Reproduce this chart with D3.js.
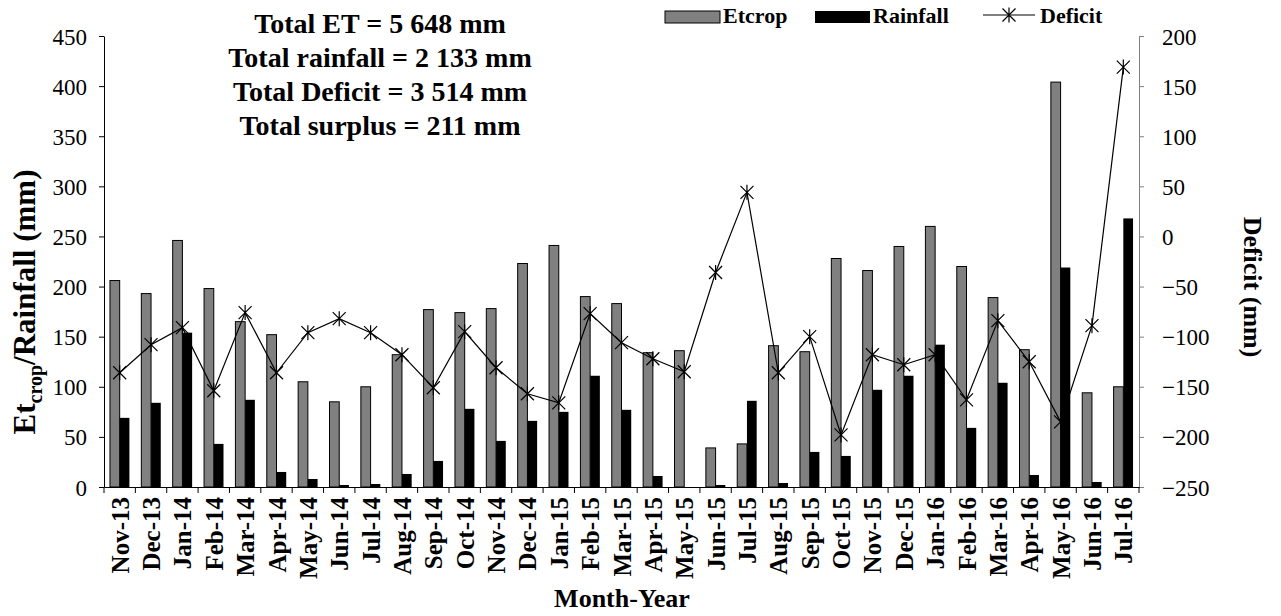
<!DOCTYPE html>
<html>
<head>
<meta charset="utf-8">
<script src="https://cdn.jsdelivr.net/npm/d3@7"></script>
<style>
  body { margin: 0; background: #fff; }
  svg, svg text { font-family: "Liberation Serif", "Times New Roman", serif; }
</style>
</head>
<body>
<svg id="chart" width="1281" height="616"></svg>
<script>
const months = ['Nov-13', 'Dec-13', 'Jan-14', 'Feb-14', 'Mar-14', 'Apr-14', 'May-14', 'Jun-14', 'Jul-14', 'Aug-14',
  'Sep-14', 'Oct-14', 'Nov-14', 'Dec-14', 'Jan-15', 'Feb-15', 'Mar-15', 'Apr-15', 'May-15', 'Jun-15', 'Jul-15',
  'Aug-15', 'Sep-15', 'Oct-15', 'Nov-15', 'Dec-15', 'Jan-16', 'Feb-16', 'Mar-16', 'Apr-16', 'May-16', 'Jun-16', 'Jul-16']
const etcrop = [206, 193, 246, 198, 165, 152, 105, 85, 100, 132, 177, 174, 178, 223, 241, 190, 183, 134, 136, 39, 43,
  141, 135, 228, 216, 240, 260, 220, 189, 137, 404, 94, 100]
const rainfall = [69, 84, 154, 43, 87, 15, 8, 2, 3, 13, 26, 78, 46, 66, 75, 111, 77, 11, 0, 2, 86,
  4, 35, 31, 97, 111, 142, 59, 104, 12, 219, 5, 268]
const deficit = [-136, -108, -91, -154, -76, -136, -96, -82, -96, -118, -151, -95, -131, -157, -166, -77, -106, -122, -135, -36, 44,
  -136, -100, -198, -118, -128, -118, -163, -84, -125, -185, -89, 169]
const leftTicks = [0, 50, 100, 150, 200, 250, 300, 350, 400, 450]
const rightTicks = [-250, -200, -150, -100, -50, 0, 50, 100, 150, 200]
const totals = ['Total ET = 5 648 mm', 'Total rainfall = 2 133 mm', 'Total Deficit = 3 514 mm', 'Total surplus = 211 mm']

const serif = '"Liberation Serif", "Times New Roman", serif'
const svg = d3.select('#chart')

let x = d3.scaleBand().domain(months).range([104, 1139])
let y = d3.scaleLinear().domain([0, 450]).range([487, 36])
let y2 = d3.scaleLinear().domain([-250, 200]).range([487, 36])

let bw = x.bandwidth() * 0.31

// bars
svg.append('g')
  .selectAll('rect')
  .data(months)
  .enter()
  .append('rect')
  .attr('x', (d, i) => x(d) + x.bandwidth() / 2 - bw)
  .attr('y', (d, i) => y(etcrop[i]))
  .attr('width', bw)
  .attr('height', (d, i) => y(0) - y(etcrop[i]))
  .attr('fill', '#808080')
  .attr('stroke', '#000')
  .attr('stroke-width', 1)

svg.append('g')
  .selectAll('rect')
  .data(months)
  .enter()
  .append('rect')
  .attr('x', (d, i) => x(d) + x.bandwidth() / 2)
  .attr('y', (d, i) => y(rainfall[i]))
  .attr('width', bw)
  .attr('height', (d, i) => y(0) - y(rainfall[i]))
  .attr('fill', '#000')

// left axis
let leftAxis = svg.append('g')
  .attr('transform', 'translate(104,0)')
  .call(d3.axisLeft(y).tickValues(leftTicks).tickSize(5).tickPadding(12).tickSizeOuter(0))
leftAxis.attr('font-family', serif)
leftAxis.selectAll('text')
  .attr('font-family', serif)
  .attr('font-size', 23)
  .attr('fill', '#000')
  .attr('dy', '0.35em')
leftAxis.select('.domain').attr('stroke', '#000')

// right axis
let rightAxis = svg.append('g')
  .attr('transform', 'translate(1139,0)')
  .call(d3.axisRight(y2).tickValues(rightTicks).tickSize(5).tickPadding(18).tickSizeOuter(0))
rightAxis.attr('font-family', serif)
rightAxis.selectAll('text')
  .attr('font-family', serif)
  .attr('font-size', 23)
  .attr('fill', '#000')
  .attr('dy', '0.35em')
rightAxis.selectAll('line').attr('stroke', '#808080')
rightAxis.select('.domain').attr('stroke', '#808080')

// bottom axis
let bottom = svg.append('g')
  .attr('transform', 'translate(0,487)')
  .call(d3.axisBottom(x).tickSize(0).tickPadding(0).tickSizeOuter(0))
bottom.attr('font-family', serif)
bottom.select('.domain').attr('stroke', '#000')
bottom.selectAll('text')
  .attr('transform', 'rotate(-90)')
  .attr('text-anchor', 'end')
  .attr('x', -10)
  .attr('y', 0)
  .attr('dy', '0.36em')
  .attr('fill', '#000')
  .attr('font-family', serif)
  .attr('font-size', 25)
  .attr('font-weight', 'bold')

bottom.selectAll('.boundary')
  .data(d3.range(months.length + 1))
  .enter()
  .append('line')
  .attr('class', 'boundary')
  .attr('x1', i => 104 + i * x.step())
  .attr('x2', i => 104 + i * x.step())
  .attr('y1', 0)
  .attr('y2', 6)
  .attr('stroke', '#000')

// deficit line
let star = 'M-6.5,-6.5L6.5,6.5M-6.5,6.5L6.5,-6.5M0,-7.5L0,7.5'
let line = d3.line()
  .x((d, i) => x(months[i]) + x.bandwidth() / 2)
  .y(d => y2(d))

svg.append('path')
  .datum(deficit)
  .attr('d', line)
  .attr('fill', 'none')
  .attr('stroke', '#000')
  .attr('stroke-width', 1.2)

svg.append('g')
  .selectAll('path')
  .data(deficit)
  .enter()
  .append('path')
  .attr('d', star)
  .attr('transform', (d, i) => `translate(${x(months[i]) + x.bandwidth() / 2},${y2(d)})`)
  .attr('fill', 'none')
  .attr('stroke', '#000')
  .attr('stroke-width', 1.2)

// totals box
svg.append('g')
  .selectAll('text')
  .data(totals)
  .enter()
  .append('text')
  .attr('x', 380)
  .attr('y', (d, i) => 33 + i * 34)
  .attr('text-anchor', 'middle')
  .style('font-size', '28px')
  .style('font-weight', 'bold')
  .text(d => d)

// axis titles
let leftTitle = svg.append('text')
  .attr('transform', 'translate(35,302) rotate(-90)')
  .attr('text-anchor', 'middle')
  .style('font-size', '31px')
  .style('font-weight', 'bold')
leftTitle.append('tspan').text('Et')
leftTitle.append('tspan').attr('dy', 7).style('font-size', '20px').text('crop')
leftTitle.append('tspan').attr('dy', -7).text('/Rainfall (mm)')

svg.append('text')
  .attr('transform', 'translate(1244,287) rotate(90)')
  .attr('text-anchor', 'middle')
  .style('font-size', '26px')
  .style('font-weight', 'bold')
  .text('Deficit (mm)')

svg.append('text')
  .attr('x', 622)
  .attr('y', 607)
  .attr('text-anchor', 'middle')
  .style('font-size', '26px')
  .style('font-weight', 'bold')
  .text('Month-Year')

// legend
let legend = svg.append('g').style('font-size', '22px').style('font-weight', 'bold')
legend.append('rect').attr('x', 665).attr('y', 11).attr('width', 55).attr('height', 12)
  .attr('fill', '#808080').attr('stroke', '#000')
legend.append('text').attr('x', 723).attr('y', 23).text('Etcrop')
legend.append('rect').attr('x', 815).attr('y', 11).attr('width', 55).attr('height', 12).attr('fill', '#000')
legend.append('text').attr('x', 873).attr('y', 23).text('Rainfall')
legend.append('line').attr('x1', 983).attr('x2', 1035).attr('y1', 15).attr('y2', 15)
  .attr('stroke', '#000').attr('stroke-width', 1.2)
legend.append('path').attr('d', star).attr('transform', 'translate(1009,15)')
  .attr('fill', 'none').attr('stroke', '#000').attr('stroke-width', 1.2)
legend.append('text').attr('x', 1040).attr('y', 23).text('Deficit')
</script>
</body>
</html>
